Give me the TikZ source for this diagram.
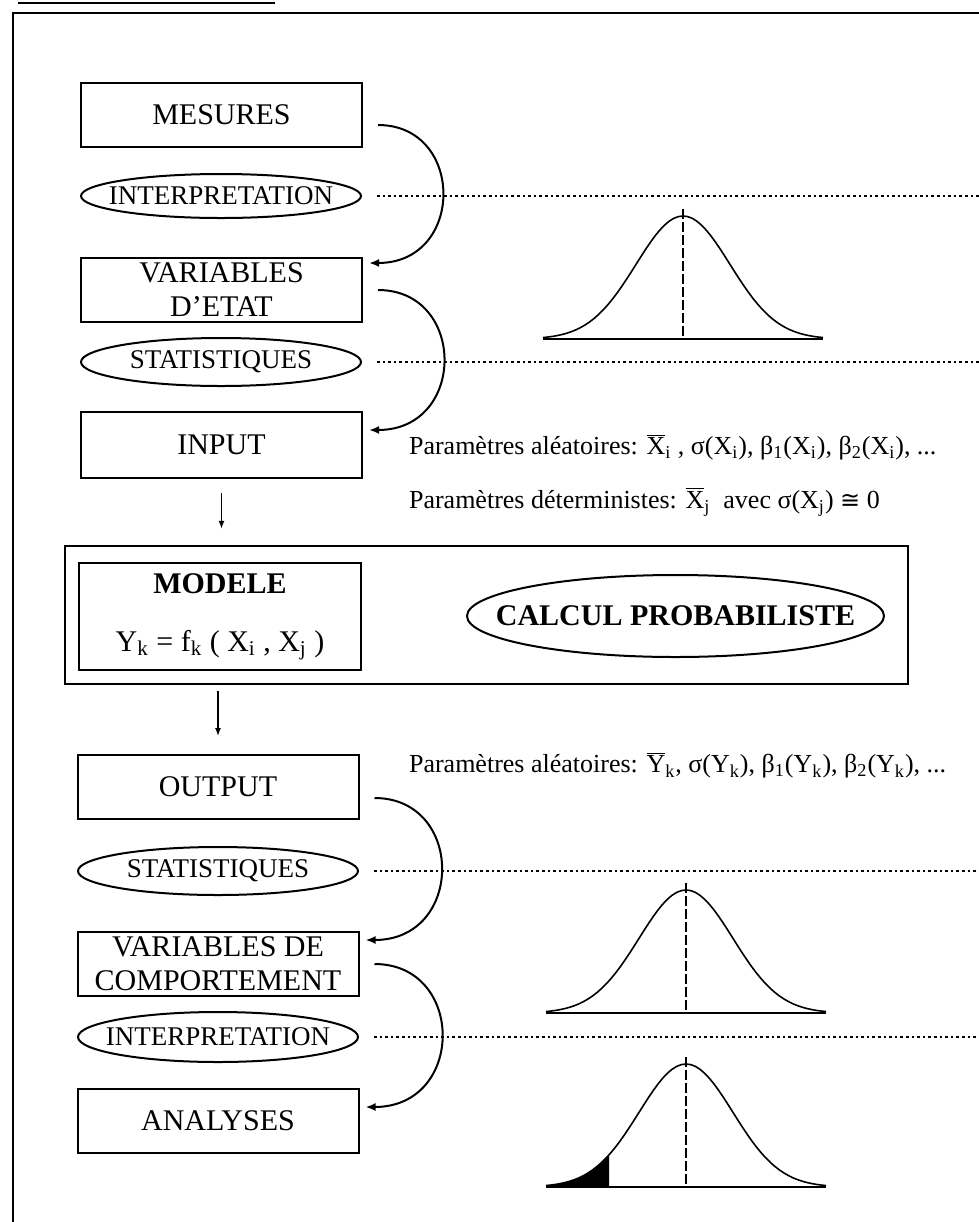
\documentclass[tikz,border=0pt]{standalone}
\usepackage{fontspec}
\setmainfont{Liberation Serif}
\newfontfamily\symfont{DejaVu Sans}
\usetikzlibrary{arrows.meta,shapes.geometric}
\newcommand{\bartxt}[1]{$\overline{\mbox{#1}}$}

\begin{document}
\begin{tikzpicture}[
    x=0.5pt, y=-0.5pt,
    every node/.style={font=\fontsize{15}{17}\selectfont},
    stage/.style={draw, line width=1pt, minimum width=140.5pt,
        minimum height=32pt, inner sep=0pt, align=center},
    oval/.style={ellipse, draw, line width=1pt, minimum width=140pt,
        minimum height=24pt, inner xsep=-40pt, inner ysep=-6pt,
        font=\fontsize{13.5}{16}\selectfont},
    hook/.style={line width=1pt, -{Latex[length=5pt,width=4pt]},
        shorten <=7.5pt, shorten >=3pt, looseness=1.9},
    down/.style={line width=0.7pt, -{Latex[length=4pt,width=3pt]}},
    guide/.style={line width=0.8pt, dash pattern=on 1.3pt off 1.5pt,
        shorten <=7.5pt},
    param/.style={anchor=west, font=\fontsize{13}{15}\selectfont},
    bell/.style={line width=0.8pt},
    mean/.style={line width=0.7pt, dash pattern=on 5pt off 1.5pt}
]
\useasboundingbox (0,0) rectangle (979,1222);
\draw[line width=1pt] (18,3) -- (275,3);
\draw[line width=1.2pt] (13,1222) -- (13,13) -- (979,13);
\coordinate (rim) at (979,0);

% input side
\node[stage] (mesures) at (221.5,115) {MESURES};
\node[oval, minimum height=22pt] (interp1) at (221,196) {INTERPRETATION};
\node[stage] (varetat) at (221.5,290) {VARIABLES\\D’ETAT};
\node[oval] (stat1) at (221,362) {STATISTIQUES};
\node[stage, minimum height=33pt] (input) at (221.5,445) {INPUT};

\node[param] (prmin) at (402,447) {Paramètres aléatoires: \bartxt{X}\textsubscript{i} ,
    σ(X\textsubscript{i}), β\textsubscript{1}(X\textsubscript{i}), β\textsubscript{2}(X\textsubscript{i}), ...};
\node[param] (prmdet) at (402,502) {Paramètres déterministes: \bartxt{X}\textsubscript{j}\ \ avec
    σ(X\textsubscript{j}) {\symfont\fontsize{12}{15}\selectfont ≅} 0};

% model block
\node[stage, line width=1.2pt, minimum width=421.5pt, minimum height=69pt]
    (bloc) at (486.5,615) {};
\node[stage, minimum width=141pt, minimum height=53.5pt] (modele) at (220,616.5)
    {{\bfseries\fontsize{15}{17}\selectfont MODELE}\\[12pt]
     Y\textsubscript{k} = f\textsubscript{k} ( X\textsubscript{i} , X\textsubscript{j} )};
\node[oval, minimum width=208.5pt, minimum height=41pt,
    font=\bfseries\fontsize{15}{18}\selectfont] (calcul) at (675.5,616) {CALCUL PROBABILISTE};

% output side
\node[stage] (output) at (218,787) {OUTPUT};
\node[oval] (stat2) at (218,871) {STATISTIQUES};
\node[stage] (varcomp) at (218,964) {VARIABLES DE\\COMPORTEMENT};
\node[oval, minimum height=25pt] (interp2) at (218,1037) {INTERPRETATION};
\node[stage] (analyses) at (218,1121) {ANALYSES};

\node[param] (prmout) at (402,765) {Paramètres aléatoires: \bartxt{Y}\textsubscript{k},
    σ(Y\textsubscript{k}), β\textsubscript{1}(Y\textsubscript{k}), β\textsubscript{2}(Y\textsubscript{k}), ...};

\draw[hook] ([yshift=-5pt]mesures.east) to[out=0,in=0] ([yshift=13.5pt]varetat.east);
\draw[hook] (varetat.east) to[out=0,in=0] ([yshift=7.5pt]input.east);
\draw[hook] ([yshift=-5.5pt]output.east) to[out=0,in=0] ([yshift=12pt]varcomp.east);
\draw[hook] (varcomp.east) to[out=0,in=0] ([yshift=7pt]analyses.east);

\draw[down, shorten <=7pt, shorten >=8pt] (input.south) -- (input.south |- bloc.north);
\draw[down, shorten <=3pt, shorten >=9pt] (output.north |- bloc.south) -- (output.north);

\foreach \o in {interp1, stat1, stat2, interp2}
    \draw[guide] (\o.east) -- (\o.east -| rim);

% distributions
\foreach \bx/\by in {683/339, 686/1013, 686/1187} {
    \draw[bell] (\bx-140,\by) -- (\bx+140,\by);
    \draw[bell] plot[domain=-140:140, samples=61]
        ({\bx+\x}, {\by-123*exp(-(\x/47)*(\x/47)/2)});
    \draw[mean] (\bx,\by-130) -- (\bx,\by);
}
\fill plot[domain=-140:-77, samples=20] ({686+\x}, {1187-123*exp(-(\x/47)*(\x/47)/2)})
    -- (609,1187) -- (546,1187) -- cycle;
\end{tikzpicture}
\end{document}
